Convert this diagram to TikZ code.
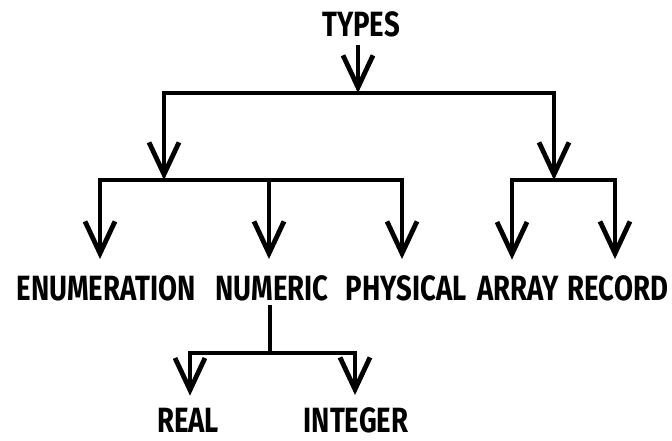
\documentclass[tikz,border=0pt]{standalone}
\usepackage{fontspec}
\setmainfont{Fira Sans}
\usetikzlibrary{arrows.meta}
\newcommand\tallword[1]{\scalebox{1.02}[1.3]{#1}}
\begin{document}
\begin{tikzpicture}[x=1pt,y=-1pt,
  lbl/.style={font=\bfseries\fontsize{27}{27}\selectfont, inner sep=0pt},
  ln/.style={line width=4.8pt, line cap=rect, line join=miter},
  tipped/.style={line width=4.8pt, -{Straight Barb[length=32pt,width=30pt,line width=4.8pt]}},
  arr/.style={tipped, shorten >=16pt}]
\useasboundingbox (0,0) rectangle (672,441);
% labels
\node[lbl] (types) at (361,24) {\tallword{TYPES}};
\node[lbl] (enum) at (106,288) {\tallword{ENUMERATION}};
\node[lbl] (num) at (272,288) {\tallword{NUMERIC}};
\node[lbl] (phys) at (406,288) {\tallword{PHYSICAL}};
\node[lbl] (arr) at (518,288) {\tallword{ARRAY}};
\node[lbl] (rec) at (618,288) {\tallword{RECORD}};
\node[lbl] (real) at (188,420) {\tallword{REAL}};
\node[lbl] (int) at (356,420) {\tallword{INTEGER}};
% junctions
\coordinate (t0) at (358,93);
\coordinate (l1) at (164,93);
\coordinate (r1) at (554,93);
\coordinate (l2) at (164,180);
\coordinate (r2) at (554,180);
\coordinate (a1) at (100,180);
\coordinate (a2) at (269,180);
\coordinate (a3) at (402,180);
\coordinate (a4) at (512,180);
\coordinate (a5) at (615,180);
\coordinate (n0) at (270,353);
\coordinate (b1) at (190,353);
\coordinate (b2) at (355,353);
% connectors
\draw[tipped] (types.south -| t0) ++(0,8) -- (t0);
\draw[ln] (l1) -- (r1);
\draw[tipped] (l1) -- (l2);
\draw[tipped] (r1) -- (r2);
\draw[ln] (a1) -- (a3);
\draw[ln] (a4) -- (a5);
\draw[arr] (a1) -- (a1 |- enum.north);
\draw[arr] (a2) -- (a2 |- num.north);
\draw[arr] (a3) -- (a3 |- phys.north);
\draw[arr] (a4) -- (a4 |- arr.north);
\draw[arr] (a5) -- (a5 |- rec.north);
\draw[ln] (num.south -| n0) ++(0,6) -- (n0);
\draw[ln] (b1) -- (b2);
\draw[tipped, shorten >=12pt] (b1) -- (b1 |- real.north);
\draw[tipped, shorten >=12pt] (b2) -- (b2 |- int.north);
\end{tikzpicture}
\end{document}
